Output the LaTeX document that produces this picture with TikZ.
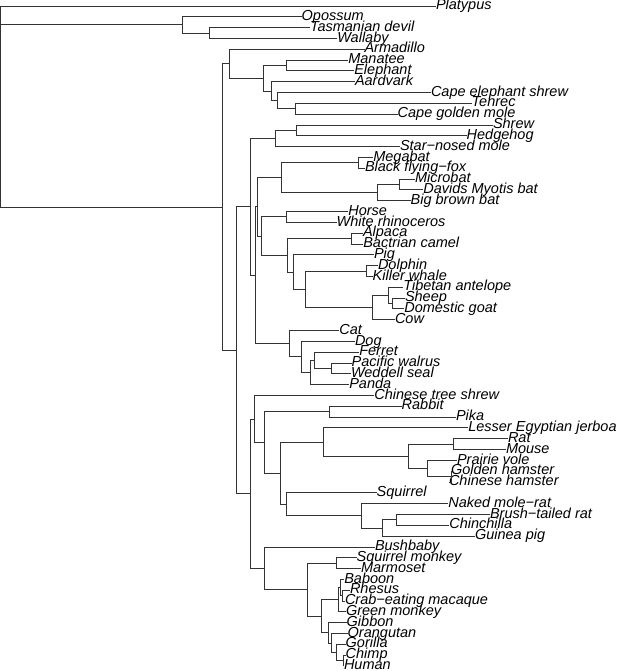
\documentclass[tikz,border=0pt]{standalone}
\usepackage{fontspec}
\setmainfont{Liberation Sans}
\begin{document}
\begin{tikzpicture}[x=1pt,y=-1pt,
  br/.style={draw=black!80, line width=1pt},
  lab/.style={anchor=west, inner sep=0pt, outer sep=0pt, text=black,
    font=\itshape\fontsize{14.5}{14.5}\selectfont, text height=0.72em, text depth=0pt}]
\useasboundingbox (0,0) rectangle (617,671);
% ---- leaves
\node[lab] (platypus) at (436,6.30) {Platypus};
\node[lab] (opossum) at (301.7,16.82) {Opossum};
\node[lab] (tdevil) at (310,27.64) {Tasmanian devil};
\node[lab] (wallaby) at (337.3,38.46) {Wallaby};
\node[lab] (armadillo) at (364.5,49.28) {Armadillo};
\node[lab] (manatee) at (348.3,60.10) {Manatee};
\node[lab] (elephant) at (354.3,70.92) {Elephant};
\node[lab] (aardvark) at (355,81.74) {Aardvark};
\node[lab] (ceshrew) at (431,92.56) {Cape elephant shrew};
\node[lab] (tenrec) at (471.7,103.38) {Tenrec};
\node[lab] (cgmole) at (397.7,114.20) {Cape golden mole};
\node[lab] (shrew) at (493,125.02) {Shrew};
\node[lab] (hedgehog) at (466.7,135.84) {Hedgehog};
\node[lab] (snmole) at (400,146.66) {Star−nosed mole};
\node[lab] (megabat) at (373.3,157.48) {Megabat};
\node[lab] (bff) at (365,168.30) {Black flying−fox};
\node[lab] (microbat) at (415,179.12) {Microbat};
\node[lab] (myotis) at (423.3,189.94) {Davids Myotis bat};
\node[lab] (bbbat) at (410.7,200.76) {Big brown bat};
\node[lab] (horse) at (348.3,211.58) {Horse};
\node[lab] (rhino) at (336.7,222.40) {White rhinoceros};
\node[lab] (alpaca) at (363,233.22) {Alpaca};
\node[lab] (camel) at (363.3,244.04) {Bactrian camel};
\node[lab] (pig) at (374,254.86) {Pig};
\node[lab] (dolphin) at (378,265.68) {Dolphin};
\node[lab] (kwhale) at (372.7,276.50) {Killer whale};
\node[lab] (antelope) at (403.3,287.32) {Tibetan antelope};
\node[lab] (sheep) at (405,298.14) {Sheep};
\node[lab] (goat) at (404.3,308.96) {Domestic goat};
\node[lab] (cow) at (395,319.78) {Cow};
\node[lab] (cat) at (339.3,330.60) {Cat};
\node[lab] (dog) at (355,341.42) {Dog};
\node[lab] (ferret) at (359.3,352.24) {Ferret};
\node[lab] (walrus) at (351.7,363.06) {Pacific walrus};
\node[lab] (seal) at (351,373.88) {Weddell seal};
\node[lab] (panda) at (349.3,384.70) {Panda};
\node[lab] (tshrew) at (374.3,395.52) {Chinese tree shrew};
\node[lab] (rabbit) at (401.7,406.34) {Rabbit};
\node[lab] (pika) at (456,417.16) {Pika};
\node[lab] (jerboa) at (468.3,427.98) {Lesser Egyptian jerboa};
\node[lab] (rat) at (508,438.80) {Rat};
\node[lab] (mouse) at (506,449.62) {Mouse};
\node[lab] (vole) at (457,460.44) {Prairie vole};
\node[lab] (ghamster) at (451,471.26) {Golden hamster};
\node[lab] (chamster) at (449,482.08) {Chinese hamster};
\node[lab] (squirrel) at (376.7,492.90) {Squirrel};
\node[lab] (nmrat) at (448.3,503.72) {Naked mole−rat};
\node[lab] (btrat) at (490,514.54) {Brush−tailed rat};
\node[lab] (chinchilla) at (449.3,525.36) {Chinchilla};
\node[lab] (gpig) at (475,536.18) {Guinea pig};
\node[lab] (bushbaby) at (375,547.00) {Bushbaby};
\node[lab] (smonkey) at (356.7,557.82) {Squirrel monkey};
\node[lab] (marmoset) at (361,568.64) {Marmoset};
\node[lab] (baboon) at (344.3,579.46) {Baboon};
\node[lab] (rhesus) at (350,590.28) {Rhesus};
\node[lab] (cemacaque) at (345,601.10) {Crab−eating macaque};
\node[lab] (gmonkey) at (346,611.92) {Green monkey};
\node[lab] (gibbon) at (346.7,622.74) {Gibbon};
\node[lab] (orangutan) at (347.7,633.56) {Orangutan};
\node[lab] (gorilla) at (345.7,644.38) {Gorilla};
\node[lab] (chimp) at (345.7,655.20) {Chimp};
\node[lab] (human) at (344,665.60) {Human};
% ---- internal nodes
\coordinate (root) at (0.8,106.5);
\coordinate (mars) at (182,24.94);
\coordinate (tdw) at (209.5,33.05);
\coordinate (euth) at (222.7,207.08);
\coordinate (xa) at (229.3,63.82);
\coordinate (afro) at (263.3,78.36);
\coordinate (pae) at (286,65.51);
\coordinate (afi) at (271.7,91.21);
\coordinate (afs) at (277.7,100.68);
\coordinate (tgm) at (295,108.79);
\coordinate (boreo) at (236,350.34);
\coordinate (laur) at (250.7,206.97);
\coordinate (eul) at (275,138.55);
\coordinate (sh) at (296,130.43);
\coordinate (s1) at (255.7,275.39);
\coordinate (s2) at (257.7,206.98);
\coordinate (bats) at (281.7,177.77);
\coordinate (ptero) at (358.3,162.89);
\coordinate (micro) at (377.7,192.65);
\coordinate (myo) at (399.3,184.53);
\coordinate (pc) at (261,236.18);
\coordinate (peri) at (286.7,216.99);
\coordinate (cet) at (287,255.37);
\coordinate (cam) at (351.7,238.63);
\coordinate (sui) at (293.3,272.1);
\coordinate (cetrum) at (305.7,289.35);
\coordinate (wh) at (366.7,271.09);
\coordinate (rum) at (372.7,307.61);
\coordinate (bov) at (388.3,295.44);
\coordinate (capr) at (392.7,303.55);
\coordinate (carn) at (289.3,343.79);
\coordinate (can) at (301,356.98);
\coordinate (pan) at (310,372.53);
\coordinate (mp) at (314.3,360.36);
\coordinate (pin) at (331,368.47);
\coordinate (euarch) at (250.7,493.7);
\coordinate (eua1) at (254.3,419.02);
\coordinate (glires) at (264,442.52);
\coordinate (lago) at (329.3,411.75);
\coordinate (rod) at (280,473.29);
\coordinate (mur1) at (323.5,442.18);
\coordinate (muroid) at (408.3,456.38);
\coordinate (mm) at (453.3,444.21);
\coordinate (cric) at (427.7,468.56);
\coordinate (ham) at (451.7,476.67);
\coordinate (sq) at (286.7,504.4);
\coordinate (hys) at (361.7,515.9);
\coordinate (hys2) at (382.7,528.07);
\coordinate (btc) at (396.7,519.95);
\coordinate (prim) at (264.3,568.39);
\coordinate (anth) at (307.7,589.78);
\coordinate (nwm) at (336.7,563.23);
\coordinate (catar) at (321.7,616.32);
\coordinate (cerc) at (338.3,599.75);
\coordinate (bm) at (340,587.58);
\coordinate (mac) at (342.7,595.69);
\coordinate (apes) at (328.3,632.89);
\coordinate (ga) at (331,643.03);
\coordinate (gch) at (336.7,652.5);
\coordinate (ch) at (343,660.61);
% ---- branches
\foreach \p/\c in {root/platypus.west, root/mars, root/euth,
  mars/opossum.west, mars/tdw, tdw/tdevil.west, tdw/wallaby.west,
  euth/xa, euth/boreo, xa/armadillo.west, xa/afro,
  afro/pae, afro/afi, pae/manatee.west, pae/elephant.west,
  afi/aardvark.west, afi/afs, afs/ceshrew.west, afs/tgm,
  tgm/tenrec.west, tgm/cgmole.west,
  boreo/laur, boreo/euarch, laur/eul, laur/s1,
  eul/sh, eul/snmole.west, sh/shrew.west, sh/hedgehog.west,
  s1/s2, s1/carn, s2/bats, s2/pc, bats/ptero, bats/micro,
  ptero/megabat.west, ptero/bff.west, micro/myo, micro/bbbat.west,
  myo/microbat.west, myo/myotis.west,
  pc/peri, pc/cet, peri/horse.west, peri/rhino.west,
  cet/cam, cet/sui, cam/alpaca.west, cam/camel.west,
  sui/pig.west, sui/cetrum, cetrum/wh, cetrum/rum,
  wh/dolphin.west, wh/kwhale.west, rum/bov, rum/cow.west,
  bov/antelope.west, bov/capr, capr/sheep.west, capr/goat.west,
  carn/cat.west, carn/can, can/dog.west, can/pan,
  pan/mp, pan/panda.west, mp/ferret.west, mp/pin,
  pin/walrus.west, pin/seal.west,
  euarch/eua1, euarch/prim, eua1/tshrew.west, eua1/glires,
  glires/lago, glires/rod, lago/rabbit.west, lago/pika.west,
  rod/mur1, rod/sq, mur1/jerboa.west, mur1/muroid,
  muroid/mm, muroid/cric, mm/rat.west, mm/mouse.west,
  cric/vole.west, cric/ham, ham/ghamster.west, ham/chamster.west,
  sq/squirrel.west, sq/hys, hys/nmrat.west, hys/hys2,
  hys2/btc, hys2/gpig.west, btc/btrat.west, btc/chinchilla.west,
  prim/bushbaby.west, prim/anth, anth/nwm, anth/catar,
  nwm/smonkey.west, nwm/marmoset.west, catar/cerc, catar/apes,
  cerc/bm, cerc/gmonkey.west, bm/baboon.west, bm/mac,
  mac/rhesus.west, mac/cemacaque.west,
  apes/gibbon.west, apes/ga, ga/orangutan.west, ga/gch,
  gch/gorilla.west, gch/ch, ch/chimp.west, ch/human.west}
  \draw[br] (\p) |- (\c);
\end{tikzpicture}
\end{document}
